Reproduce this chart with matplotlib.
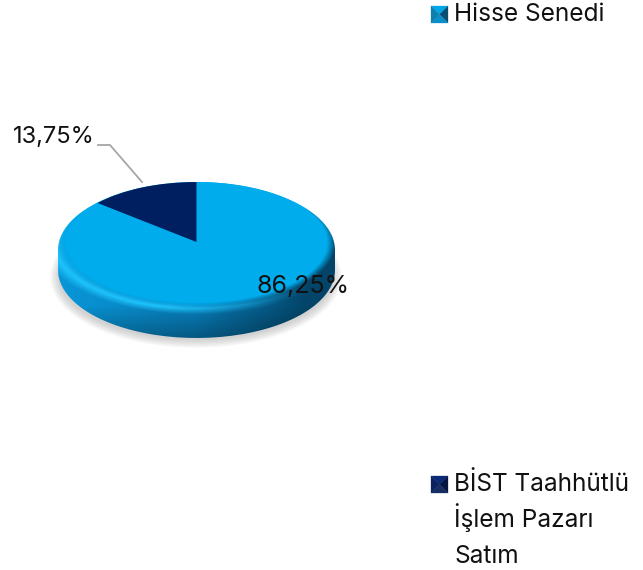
import numpy as np
import matplotlib
matplotlib.use("Agg")
import matplotlib.pyplot as plt
from matplotlib.patches import Ellipse, Polygon, PathPatch
from matplotlib.path import Path

values = [86.25, 13.75]
pct_labels = ["86,25%", "13,75%"]
legend_labels = ["Hisse Senedi", "BİST Taahhütlü\nİşlem Pazarı\nSatım"]
colors = ["#00ACEC", "#001F60"]
marker_colors = [["#00A6E6", "#0A4F72", "#0B8FC8", "#0F7FB0"],
                 ["#0A2A78", "#061640", "#142E63", "#0B2260"]]

W, H = 643, 570
plt.rcParams['font.family'] = ['Inter', 'DejaVu Sans']

fig = plt.figure(figsize=(W / 100, H / 100), dpi=100)
ax = fig.add_axes([0, 0, 1, 1])
ax.set_xlim(0, W)
ax.set_ylim(H, 0)
ax.axis("off")

# shadow under the pie
for i in range(10):
    ax.add_patch(Ellipse((196, 277), 2 * (146 - i), 2 * (71 - i * 0.9), fc="#808080", ec="none", alpha=0.04))

# side of the pie, a shaded picture cut to the outline
xx, yy = np.meshgrid(np.arange(50, 345), np.arange(175, 345))
u = (xx - 196.5) / 138.5
r = np.sqrt(((xx - 196.5) / 130.0) ** 2 + ((yy - 242) / 60.0) ** 2)
stops = np.array([[8, 150, 215], [8, 125, 185], [3, 68, 104]], float)
side = np.zeros(xx.shape + (3,))
for c in range(3):
    side[..., c] = np.interp(u, [-1, 0.0, 0.8], stops[:, c])
# bright band just below the top face, fading to the right
glow = np.clip(1 - np.abs(r - 1.1) / 0.1, 0, 1)[..., None] * np.clip(0.8 - u, 0, 1)[..., None]
side = side * (1 - glow) + np.array([30, 195, 252]) * glow
dark = np.clip((yy - 305) / 33.0, 0, 1)[..., None] * 0.3
side = side * (1 - dark)
# rim blends into the top face, and stays light on the upper half
rim = np.clip(1 - (r - 1) / 0.07, 0, 1)[..., None]
upper_part = np.clip((236 - yy) / 30.0, 0, 1)[..., None]
rim = np.maximum(rim, upper_part)
side = side * (1 - rim) + np.array([0, 172, 236]) * rim
im = ax.imshow(side.astype(np.uint8), extent=(50, 345, 345, 175), zorder=2, aspect="auto")
ax.set_xlim(0, W)
ax.set_ylim(H, 0)

t = np.linspace(0, np.pi, 80)
upper = np.column_stack([196.5 + 138.5 * np.cos(t), 250 - 68 * np.sin(t)])
lower = np.column_stack([196.5 - 138.5 * np.cos(t), 270 + 68 * np.sin(t)])
outline = Path(np.vstack([upper, lower, upper[:1]]))
clip = PathPatch(outline, transform=ax.transData, fc="none", ec="none")
ax.add_patch(clip)
im.set_clip_path(clip)

# top face: unit circle stretched to the ellipse
pie_ax = fig.add_axes([(196.5 - 130) / W, 1 - (242 + 60) / H, 260 / W, 120 / H], zorder=3)
pie_ax.pie(values, colors=colors, startangle=90, counterclock=False, radius=1)
pie_ax.set_aspect("auto")
pie_ax.set_xlim(-1, 1)
pie_ax.set_ylim(-1, 1)
pie_ax.axis("off")

# text and legend on top
top = fig.add_axes([0, 0, 1, 1], zorder=4)
top.set_xlim(0, W)
top.set_ylim(H, 0)
top.axis("off")
top.text(256, 293, pct_labels[0], fontsize=18, color="#111111", va="baseline", ha="left")
top.text(13, 143, pct_labels[1], fontsize=17, color="#111111", va="baseline", ha="left")
top.plot([98, 110, 142], [145, 145, 182], color="#A6A6A6", lw=1.3)


def marker(x0, y0, x1, y1, cols):
    cx, cy = (x0 + x1) / 2, (y0 + y1) / 2
    tris = [[(x0, y0), (x1, y0)], [(x1, y0), (x1, y1)], [(x1, y1), (x0, y1)], [(x0, y1), (x0, y0)]]
    for tri, col in zip(tris, cols):
        top.add_patch(Polygon(tri + [(cx, cy)], fc=col, ec=col, lw=0.2))


marker(431, 6, 448, 23, marker_colors[0])
marker(431, 476, 448, 493, marker_colors[1])
top.text(454, 21, legend_labels[0], fontsize=17.6, color="#111111", va="baseline", ha="left")
for i, line in enumerate(legend_labels[1].split("\n")):
    top.text(454, 491 + i * 36, line, fontsize=17.6, color="#111111", va="baseline", ha="left")

fig.savefig("out.png", dpi=100)
